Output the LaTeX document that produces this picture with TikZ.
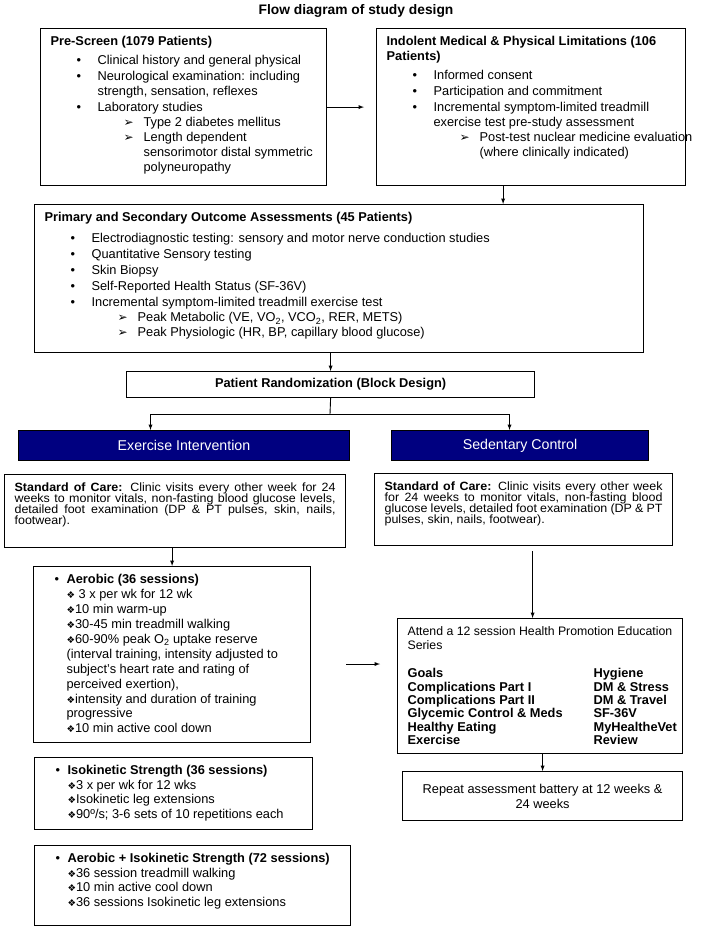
\documentclass[tikz,border=0pt]{standalone}
\usepackage{fontspec}
\setmainfont{Liberation Sans}
\newfontfamily\symfont{DejaVu Sans}
\newfontfamily\socfont[FakeStretch=1.04]{Liberation Sans}
\usepackage{xcolor}
\definecolor{armblue}{RGB}{0,0,128}

\newcommand{\panelbox}[3]{\parbox[c][#2][t]{#1}{\raggedright #3}}
\newcommand{\bitem}[1]{\par\vspace{1pt}\leftskip=47pt\noindent\llap{\makebox[21pt][l]{\textbullet}}#1}
\newcommand{\sitem}[1]{\par\leftskip=93pt\noindent\llap{\makebox[20pt][l]{\symfont\fontsize{12}{12}\selectfont ➢}}#1}
\newcommand{\titem}[1]{\par\leftskip=23pt\noindent\llap{\makebox[12pt][l]{\textbullet}}#1}
\newcommand{\ditem}[1]{\par\noindent{\symfont\fontsize{9.5}{9.5}\selectfont ❖}#1}
\newcommand{\jline}[1]{\makebox[\linewidth][s]{#1}\\}

\begin{document}
\begin{tikzpicture}[x=1pt,y=-1pt,>=latex,
  panel/.style={draw,line width=1.2pt,anchor=north west,inner xsep=10pt,inner ysep=8pt,font=\fontsize{12.8}{15}\selectfont},
  arm/.style={draw,line width=1pt,fill=armblue,text=white,anchor=north west,inner sep=0pt,minimum height=30pt,font=\fontsize{14.2}{16}\selectfont},
  link/.style={->,line width=0.9pt}]
\useasboundingbox (0,0) rectangle (712,928);

\node[font=\bfseries\fontsize{13.8}{16}\selectfont] (title) at (356,11) {Flow diagram of study design};

% Screening
\node[panel] (pre) at (40,28) {\panelbox{266pt}{141pt}{\textbf{Pre-Screen (1079 Patients)}\par\vspace{3pt}
\bitem{Clinical history and general physical}
\bitem{Neurological examination: including\\strength, sensation, reflexes}
\bitem{Laboratory studies}
\sitem{Type 2 diabetes mellitus}
\sitem{Length dependent\\sensorimotor distal symmetric\\polyneuropathy}}};

\node[panel] (ind) at (376,28) {\panelbox{289pt}{141pt}{\textbf{Indolent Medical \& Physical Limitations (106\\Patients)}\par\vspace{3pt}
\bitem{Informed consent}
\bitem{Participation and commitment}
\bitem{Incremental symptom-limited treadmill\\exercise test pre-study assessment}
\sitem{\mbox{Post-test nuclear medicine evaluation}\\(where clinically indicated)}}};

\node[panel] (outcome) at (34,204) {\panelbox{589pt}{132pt}{\textbf{Primary and Secondary Outcome Assessments (45 Patients)}\par\vspace{5pt}
\bitem{Electrodiagnostic testing: sensory and motor nerve conduction studies}
\bitem{Quantitative Sensory testing}
\bitem{Skin Biopsy}
\bitem{Self-Reported Health Status (SF-36V)}
\bitem{Incremental symptom-limited treadmill exercise test}
\sitem{Peak Metabolic (VE, VO\textsubscript{2}, VCO\textsubscript{2}, RER, METS)}
\sitem{Peak Physiologic (HR, BP, capillary blood glucose)}}};

\node[panel,inner sep=0pt,minimum width=408pt,minimum height=26pt,font=\bfseries\fontsize{12.8}{14.5}\selectfont] (rand) at (126,371) {Patient Randomization (Block Design)};

% Study arms
\node[arm,minimum width=331pt] (exer) at (18,430) {Exercise Intervention};
\node[arm,minimum width=257pt] (sed) at (391,430) {Sedentary Control};

\node[panel,font=\socfont\fontsize{12}{11}\selectfont] (socL) at (4,474) {\parbox[c][57pt][t]{321pt}{\lineskiplimit=-6pt\noindent
\jline{\textbf{Standard of Care:} Clinic visits every other week for 24}
\jline{weeks to monitor vitals, non-fasting blood glucose levels,}
\jline{detailed foot examination (DP \& PT pulses, skin, nails,}
footwear).}};
\node[panel,font=\socfont\fontsize{12}{11}\selectfont] (socR) at (374,473) {\parbox[c][56pt][t]{278pt}{\lineskiplimit=-6pt\noindent
\jline{\textbf{Standard of Care:} Clinic visits every other week}
\jline{for 24 weeks to monitor vitals, non-fasting blood}
\jline{glucose levels, detailed foot examination (DP \& PT}
pulses, skin, nails, footwear).}};

\node[panel,font=\fontsize{12.8}{14.9}\selectfont] (aero) at (33,566) {\panelbox{257pt}{160pt}{\titem{\textbf{Aerobic (36 sessions)}}
\ditem{ 3 x per wk for 12 wk}
\ditem{10 min warm-up}
\ditem{30-45 min treadmill walking}
\ditem{60-90\% peak O\textsubscript{2} uptake reserve\\(interval training, intensity adjusted to\\subject's heart rate and rating of\\perceived exertion),}
\ditem{intensity and duration of training\\progressive}
\ditem{10 min active cool down}}};

\node[panel,font=\fontsize{12.8}{14.5}\selectfont] (iso) at (34,757) {\panelbox{258pt}{56pt}{\titem{\textbf{Isokinetic Strength (36 sessions)}}
\ditem{3 x per wk for 12 wks}
\ditem{Isokinetic leg extensions}
\ditem{90º/s; 3-6 sets of 10 repetitions each}}};

\node[panel,font=\fontsize{12.8}{14.5}\selectfont] (aeroiso) at (34,845) {\panelbox{296pt}{64pt}{\titem{\textbf{Aerobic + Isokinetic Strength (72 sessions)}}
\ditem{36 session treadmill walking}
\ditem{10 min active cool down}
\ditem{36 sessions Isokinetic leg extensions}}};

\node[panel] (attend) at (397,618) {\panelbox{265pt}{119pt}{{\fontsize{12.3}{14}\selectfont Attend a 12 session Health Promotion Education\\Series\par}\vspace{15pt}
\fontsize{12.8}{13.3}\selectfont\bfseries
\makebox[186pt][l]{Goals}Hygiene\\
\makebox[186pt][l]{Complications Part I}DM \& Stress\\
\makebox[186pt][l]{Complications Part II}DM \& Travel\\
\makebox[186pt][l]{Glycemic Control \& Meds}SF-36V\\
\makebox[186pt][l]{Healthy Eating}MyHealtheVet\\
\makebox[186pt][l]{Exercise}Review}};

\node[panel,inner sep=0pt,minimum width=280pt,minimum height=49pt,align=center] (repeat) at (402,771) {Repeat assessment battery at 12 weeks \&\\24 weeks};

% Connectors
\coordinate (indtap) at ([xshift=-28pt]ind.south);
\coordinate (split) at (330,414);
\coordinate (sedtap) at ([xshift=9pt]socR.south);
\coordinate (midrow) at (0,664);
\draw[link,shorten >=12pt] (pre.east) -- (ind.west);
\draw[link] (indtap) -- (indtap |- outcome.north);
\draw[link] (outcome.south -| rand.north) -- (rand.north);
\draw[line width=0.9pt] (rand.south) -- (split);
\draw[link] (split) -| ([xshift=-33.5pt]exer.north);
\draw[link] (split) -| ([xshift=-10.5pt]sed.north);
\draw[link] (socL.south -| aero.north) -- (aero.north);
\draw[link,shorten <=5pt] (sedtap) -- (sedtap |- attend.north);
\draw[link,shorten <=35pt,shorten >=17pt] (aero.east |- midrow) -- (attend.west |- midrow);
\draw[link] (attend.south -| repeat.north) -- (repeat.north);
\end{tikzpicture}
\end{document}
